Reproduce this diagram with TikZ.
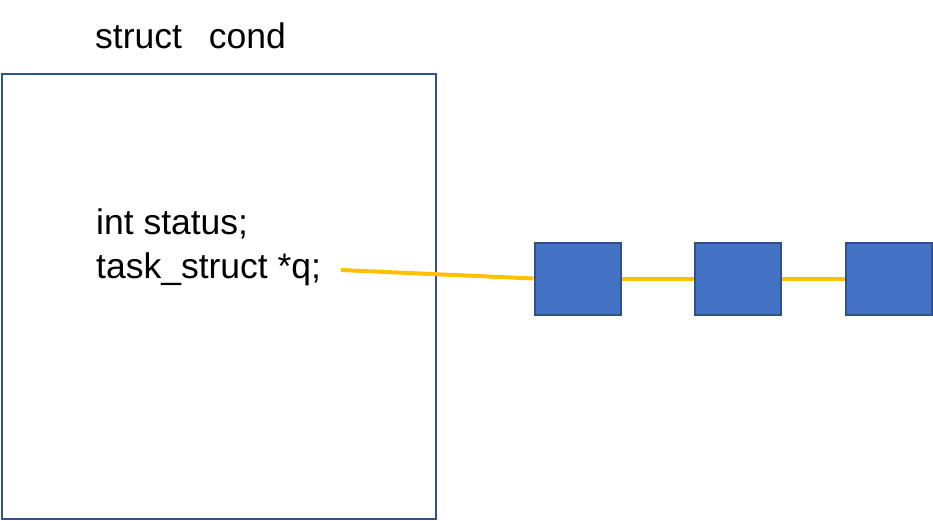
\documentclass[tikz,border=0pt]{standalone}
\usepackage{fontspec}
\setmainfont{Liberation Sans}
\definecolor{boxfill}{HTML}{4472C4}
\definecolor{boxedge}{HTML}{2F528F}
\definecolor{link}{HTML}{FFC000}
\begin{document}
\begin{tikzpicture}[x=1pt,y=-1pt,
  lbl/.style={anchor=base west,inner sep=0pt,font=\fontsize{35.5}{40}\selectfont},
  elem/.style={draw=boxedge,fill=boxfill,line width=2pt,minimum width=86pt,minimum height=72pt,inner sep=0pt},
  linkline/.style={draw=link,line width=4pt}]
\useasboundingbox (0,0) rectangle (933,520);
\node[draw=boxedge,line width=1.6pt,minimum width=434pt,minimum height=445pt,inner sep=0pt,anchor=north west] (cond) at (1,73) {};
\node[lbl] (title) at (95,48) {struct\hspace{27pt}cond};
\node[lbl] (f1) at (96,234) {int status;};
\node[lbl] (f2) at (96,278) {task\_struct *q;};
\coordinate (q) at (341,270);
\node[elem] (b1) at (577.5,278.5) {};
\node[elem] (b2) at (737.5,278.5) {};
\node[elem] (b3) at (889,278.5) {};
\draw[linkline] (q) -- (b1.west);
\draw[linkline] (b1.east) -- (b2.west);
\draw[linkline] (b2.east) -- (b3.west);
\end{tikzpicture}
\end{document}
